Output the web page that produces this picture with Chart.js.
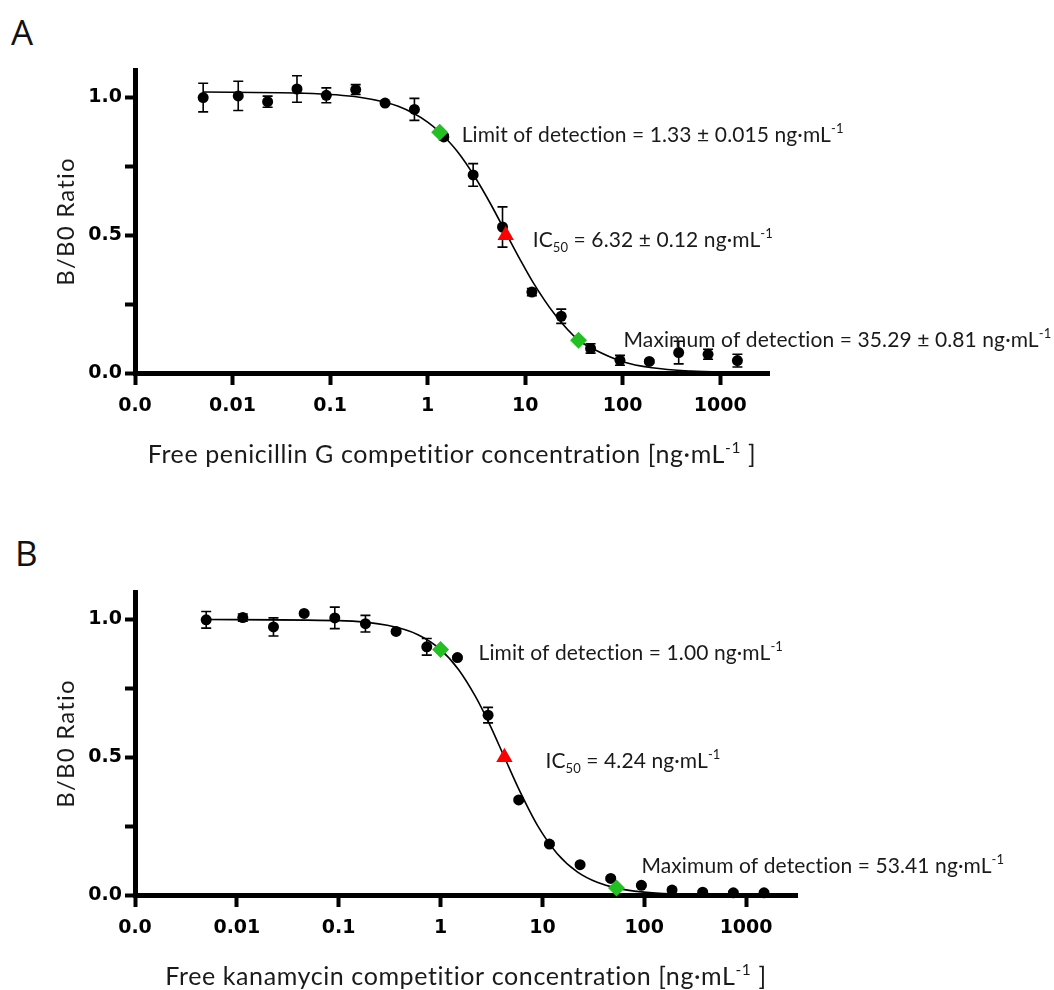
<!DOCTYPE html>
<html lang="en">
<head>
<meta charset="UTF-8">
<title>Competitive assay curves</title>
<script src="https://cdn.jsdelivr.net/npm/chart.js@4.4.0/dist/chart.umd.min.js"></script>
<style>
  body { margin: 0; background: #fff; width: 1054px; height: 990px; position: relative; overflow: hidden; }
  canvas { position: absolute; left: 0; }
  .letter { position: absolute; font-family: "Open Sans", sans-serif; font-size: 35px; font-weight: 400; color: #111; line-height: normal; }
</style>
</head>
<body>
<div class="letter" style="left:11px;top:8px">A</div>
<div class="letter" style="left:15px;top:529px">B</div>
<canvas id="chartA" width="1054" height="495" style="top:0"></canvas>
<canvas id="chartB" width="1054" height="495" style="top:495px"></canvas>
<script>
// axis ticks (log x, linear y)
const tickVals = [0.001, 0.01, 0.1, 1, 10, 100, 1000];
const tickLabels = ['0.0', '0.01', '0.1', '1', '10', '100', '1000'];
const yTickVals = [0, 0.25, 0.5, 0.75, 1.0];
const yTickLabels = ['0.0', '', '0.5', '', '1.0'];

// competitor concentrations (ng/mL), same dilution series in both panels
const conc = [0.005, 0.01144, 0.02289, 0.04578, 0.09155, 0.1831, 0.3662, 0.7324, 1.465,
  2.930, 5.859, 11.72, 23.44, 46.88, 93.75, 187.5, 375, 750, 1500];

// A: penicillin G
const meanA = [1.000, 1.006, 0.985, 1.031, 1.008, 1.029, 0.980, 0.957, 0.857, 0.719,
  0.530, 0.294, 0.206, 0.089, 0.046, 0.042, 0.074, 0.068, 0.045];
const errA = [0.052, 0.053, 0.020, 0.048, 0.027, 0.018, 0.005, 0.040, 0.010, 0.041,
  0.073, 0.013, 0.026, 0.017, 0.018, 0.005, 0.041, 0.018, 0.023];
const fitConcA = [0.005, 0.05, 0.2, 0.5, 1, 1.33, 2, 3, 4.5, 6.32, 9, 12, 20, 35.29, 50, 100, 200, 500, 1500];
const fitA = [1.020, 1.016, 1.001, 0.968, 0.911, 0.874, 0.806, 0.716, 0.609, 0.510, 0.408,
  0.330, 0.214, 0.119, 0.087, 0.041, 0.019, 0.007, 0.002];
const markConcA = [1.33, 6.32, 35.29];
const markValA = [0.874, 0.5, 0.119];

// B: kanamycin
const meanB = [0.999, 1.007, 0.973, 1.022, 1.006, 0.985, 0.957, 0.901, 0.862, 0.653,
  0.345, 0.185, 0.110, 0.060, 0.035, 0.018, 0.010, 0.008, 0.008];
const errB = [0.030, 0.013, 0.033, 0.005, 0.039, 0.030, 0.005, 0.030, 0.005, 0.028,
  0.005, 0.005, 0.005, 0.005, 0.005, 0.005, 0.005, 0.005, 0.005];
const fitConcB = [0.005, 0.1, 0.3, 0.6, 1, 1.5, 2.2, 3, 4.24, 6, 9, 14, 22, 35, 53.41, 80, 130, 300, 1500];
const fitB = [1.000, 0.996, 0.979, 0.945, 0.891, 0.819, 0.721, 0.623, 0.500, 0.377, 0.251,
  0.150, 0.084, 0.045, 0.025, 0.014, 0.007, 0.002, 0.000];
const markConcB = [1.00, 4.24, 53.41];
const markValB = [0.891, 0.5, 0.025];

// annotation text, [text, 'sup'|'sub']
const notesA = [
  [['Limit of detection = 1.33 \u00b1 0.015 ng\u00b7mL'], ['-1', 'sup']],
  [['IC'], ['50', 'sub'], [' = 6.32 \u00b1 0.12 ng\u00b7mL'], ['-1', 'sup']],
  [['Maximum of detection = 35.29 \u00b1 0.81 ng\u00b7mL'], ['-1', 'sup']]
];
const notesB = [
  [['Limit of detection = 1.00 ng\u00b7mL'], ['-1', 'sup']],
  [['IC'], ['50', 'sub'], [' = 4.24 ng\u00b7mL'], ['-1', 'sup']],
  [['Maximum of detection = 53.41 ng\u00b7mL'], ['-1', 'sup']]
];
const xTitleA = [['Free penicillin G competitior concentration [ng\u00b7mL'], ['-1', 'sup'], [' ]']];
const xTitleB = [['Free kanamycin competitior concentration [ng\u00b7mL'], ['-1', 'sup'], [' ]']];
const yTitle = 'B/B0 Ratio';

const textFont = 'Lato, "Open Sans", sans-serif';
const tickFont = { family: '"DejaVu Sans", sans-serif', weight: 'bold', size: 19 };

function drawRich(ctx, parts, x, y, size, align, spacing) {
  const fontFor = p => (p[1] ? size * 0.62 : size) + 'px ' + textFont;
  ctx.letterSpacing = (spacing || 0) + 'px';
  let total = 0;
  parts.forEach(p => { ctx.font = fontFor(p); total += ctx.measureText(p[0]).width; });
  let cx = align === 'center' ? x - total / 2 : x;
  ctx.textAlign = 'left';
  ctx.textBaseline = 'alphabetic';
  parts.forEach(p => {
    ctx.font = fontFor(p);
    const dy = p[1] === 'sup' ? -size * 0.42 : p[1] === 'sub' ? size * 0.24 : 0;
    ctx.fillText(p[0], cx, y + dy);
    cx += ctx.measureText(p[0]).width;
  });
  ctx.letterSpacing = '0px';
}

function makeChart(id, d) {
  const errorBars = {
    id: 'errorBars',
    beforeDatasetsDraw(chart) {
      const { x, y } = chart.scales;
      const ctx = chart.ctx;
      ctx.save();
      ctx.strokeStyle = '#000';
      ctx.lineWidth = 1.6;
      d.conc.forEach((c, i) => {
        const e = d.err[i];
        const px = x.getPixelForValue(c);
        const top = y.getPixelForValue(d.mean[i] + e);
        const bot = y.getPixelForValue(d.mean[i] - e);
        ctx.beginPath();
        ctx.moveTo(px, top); ctx.lineTo(px, bot);
        ctx.moveTo(px - 5, top); ctx.lineTo(px + 5, top);
        ctx.moveTo(px - 5, bot); ctx.lineTo(px + 5, bot);
        ctx.stroke();
      });
      ctx.restore();
    }
  };

  const labels = {
    id: 'labels',
    afterDraw(chart) {
      const { x, y } = chart.scales;
      const ctx = chart.ctx;
      const area = chart.chartArea;
      ctx.save();
      ctx.fillStyle = '#1a1a1a';
      d.notes.forEach((parts, i) => {
        const px = x.getPixelForValue(d.markConc[i]);
        const py = y.getPixelForValue(d.markVal[i]);
        drawRich(ctx, parts, px + d.noteOffsets[i][0], py + d.noteOffsets[i][1], 21, 'left', 0.1);
      });
      // axis titles
      drawRich(ctx, d.xTitle, (area.left + area.right) / 2, area.bottom + 90, 25, 'center', 0.6);
      ctx.translate(74, (area.top + area.bottom) / 2);
      ctx.rotate(-Math.PI / 2);
      drawRich(ctx, [[yTitle]], 0, 0, 24, 'center', 1.2);
      ctx.restore();
    }
  };

  return new Chart(document.getElementById(id), {
    type: 'scatter',
    data: {
      datasets: [
        {
          // LOD / IC50 / MOD markers
          data: d.markConc.map((c, i) => ({ x: c, y: d.markVal[i] })),
          pointStyle: ['rectRot', 'triangle', 'rectRot'],
          pointRadius: [8.5, 9.5, 8.5],
          backgroundColor: ['#22c022', '#ff0000', '#22c022'],
          borderWidth: 0,
          order: 0,
          clip: false
        },
        {
          data: d.conc.map((c, i) => ({ x: c, y: d.mean[i] })),
          pointRadius: 5.5,
          backgroundColor: '#000',
          borderWidth: 0,
          order: 1,
          clip: false
        },
        {
          type: 'line',
          data: d.fitConc.map((c, i) => ({ x: c, y: d.fit[i] })),
          borderColor: '#000',
          borderWidth: 1.6,
          pointRadius: 0,
          cubicInterpolationMode: 'monotone',
          order: 2,
          clip: false
        }
      ]
    },
    options: {
      responsive: false,
      animation: false,
      events: [],
      layout: { padding: d.padding },
      plugins: { legend: { display: false }, tooltip: { enabled: false } },
      scales: {
        x: {
          type: 'logarithmic',
          min: 0.001,
          max: 3162,
          afterBuildTicks: s => { s.ticks = tickVals.map(v => ({ value: v })); },
          afterFit: s => { s.height = 70; },
          ticks: {
            callback: (v, i) => tickLabels[i],
            autoSkip: false, maxRotation: 0, color: '#000', font: tickFont, padding: 10
          },
          grid: { drawOnChartArea: false, tickLength: 12, tickWidth: 4, tickColor: '#000' },
          border: { color: '#000', width: 5 }
        },
        y: {
          min: 0,
          max: 1.1,
          afterBuildTicks: s => { s.ticks = yTickVals.map(v => ({ value: v })); },
          afterFit: s => { s.width = 135; },
          ticks: {
            callback: (v, i) => yTickLabels[i],
            color: '#000', font: tickFont, padding: 3
          },
          grid: { drawOnChartArea: false, tickLength: 10, tickWidth: 4, tickColor: '#000' },
          border: { color: '#000', width: 5 }
        }
      }
    },
    plugins: [errorBars, labels]
  });
}

makeChart('chartA', {
  conc, mean: meanA, err: errA, fitConc: fitConcA, fit: fitA,
  markConc: markConcA, markVal: markValA, notes: notesA, xTitle: xTitleA,
  noteOffsets: [[22, 10], [27, 12], [45, 7]],
  padding: { left: 0, top: 70, right: 285, bottom: 52 }
});
makeChart('chartB', {
  conc, mean: meanB, err: errB, fitConc: fitConcB, fit: fitB,
  markConc: markConcB, markVal: markValB, notes: notesB, xTitle: xTitleB,
  noteOffsets: [[38, 10], [41, 11], [25, -15]],
  padding: { left: 0, top: 97, right: 257, bottom: 25 }
});
</script>
</body>
</html>
